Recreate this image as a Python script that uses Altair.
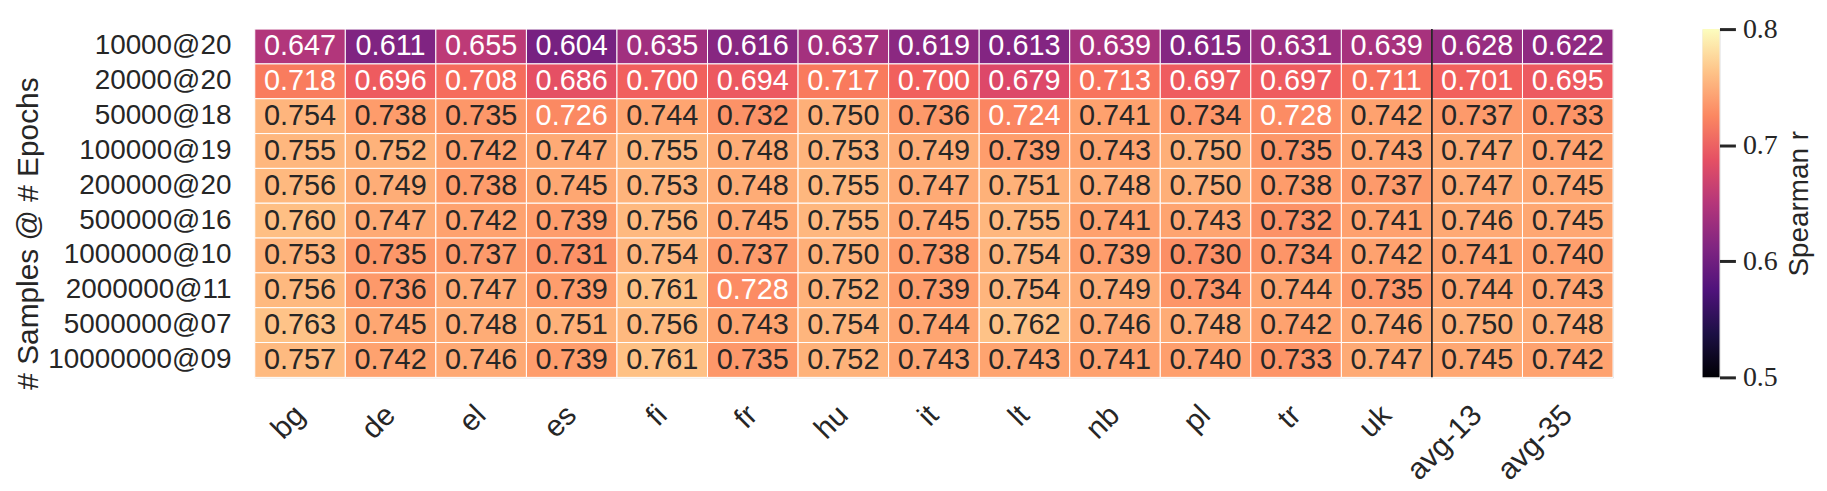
import altair as alt
import pandas as pd

# Column (language) labels
langs = ["bg", "de", "el", "es", "fi", "fr", "hu", "it", "lt", "nb", "pl", "tr", "uk", "avg-13", "avg-35"]

# Row labels (# samples @ # epochs)
runs = ["10000@20", "20000@20", "50000@18", "100000@19", "200000@20",
        "500000@16", "1000000@10", "2000000@11", "5000000@07", "10000000@09"]

# Spearman r per row
r_10000_20 = [0.647, 0.611, 0.655, 0.604, 0.635, 0.616, 0.637, 0.619, 0.613, 0.639, 0.615, 0.631, 0.639, 0.628, 0.622]
r_20000_20 = [0.718, 0.696, 0.708, 0.686, 0.700, 0.694, 0.717, 0.700, 0.679, 0.713, 0.697, 0.697, 0.711, 0.701, 0.695]
r_50000_18 = [0.754, 0.738, 0.735, 0.726, 0.744, 0.732, 0.750, 0.736, 0.724, 0.741, 0.734, 0.728, 0.742, 0.737, 0.733]
r_100000_19 = [0.755, 0.752, 0.742, 0.747, 0.755, 0.748, 0.753, 0.749, 0.739, 0.743, 0.750, 0.735, 0.743, 0.747, 0.742]
r_200000_20 = [0.756, 0.749, 0.738, 0.745, 0.753, 0.748, 0.755, 0.747, 0.751, 0.748, 0.750, 0.738, 0.737, 0.747, 0.745]
r_500000_16 = [0.760, 0.747, 0.742, 0.739, 0.756, 0.745, 0.755, 0.745, 0.755, 0.741, 0.743, 0.732, 0.741, 0.746, 0.745]
r_1000000_10 = [0.753, 0.735, 0.737, 0.731, 0.754, 0.737, 0.750, 0.738, 0.754, 0.739, 0.730, 0.734, 0.742, 0.741, 0.740]
r_2000000_11 = [0.756, 0.736, 0.747, 0.739, 0.761, 0.728, 0.752, 0.739, 0.754, 0.749, 0.734, 0.744, 0.735, 0.744, 0.743]
r_5000000_07 = [0.763, 0.745, 0.748, 0.751, 0.756, 0.743, 0.754, 0.744, 0.762, 0.746, 0.748, 0.742, 0.746, 0.750, 0.748]
r_10000000_09 = [0.757, 0.742, 0.746, 0.739, 0.761, 0.735, 0.752, 0.743, 0.743, 0.741, 0.740, 0.733, 0.747, 0.745, 0.742]

row_values = [r_10000_20, r_20000_20, r_50000_18, r_100000_19, r_200000_20,
              r_500000_16, r_1000000_10, r_2000000_11, r_5000000_07, r_10000000_09]

# Colorbar range and ticks
cbar_range = [0.5, 0.8]
cbar_ticks = [0.5, 0.6, 0.7, 0.8]

# Separator before averages
separator = ["avg-13"]

records = []
for run, vals in zip(runs, row_values):
    for lang, v in zip(langs, vals):
        records.append({"run": run, "lang": lang, "v": v})
df = pd.DataFrame(records)

FONT = "Liberation Sans"
DARK = "#262626"
W, H = 1365, 350

xs = alt.Scale(domain=langs, paddingInner=0, paddingOuter=0)
ys = alt.Scale(domain=runs, paddingInner=0, paddingOuter=0)

base = alt.Chart(df)

rects = base.mark_rect(stroke="white", strokeWidth=1).encode(
    x=alt.X("lang:N", scale=xs, title=None,
            axis=alt.Axis(labelAngle=315, labelAlign="right", labelBaseline="middle",
                          ticks=False, tickSize=0, domain=False, labelPadding=33,
                          labelFontSize=30, labelFont=FONT, labelColor=DARK, labelLimit=300)),
    y=alt.Y("run:N", scale=ys, title="# Samples @ # Epochs",
            axis=alt.Axis(ticks=False, tickSize=0, domain=False, labelPadding=24,
                          labelFontSize=28, labelFont=FONT, labelColor=DARK, labelLimit=300,
                          titleFontSize=30, titleFont=FONT, titleColor=DARK,
                          titleFontWeight="normal", titlePadding=12, titleY=205)),
    color=alt.Color("v:Q", scale=alt.Scale(scheme="magma", domain=cbar_range), legend=None),
)

texts = base.mark_text(fontSize=29, font=FONT).encode(
    x=alt.X("lang:N", scale=xs),
    y=alt.Y("run:N", scale=ys),
    text=alt.Text("v:Q", format=".3f"),
    color=alt.condition(alt.datum.v < 0.729, alt.value("white"), alt.value(DARK)),
)

sep = alt.Chart(pd.DataFrame({"lang": separator})).mark_rule(color="black", strokeWidth=1.5).encode(
    x=alt.X("lang:N", scale=xs, bandPosition=0),
    y=alt.value(0),
    y2=alt.value(H),
)

heat = alt.layer(rects, texts, sep).properties(width=W, height=H)

stops = [
    alt.GradientStop(color="#000004", offset=0.0),
    alt.GradientStop(color="#1c1044", offset=0.125),
    alt.GradientStop(color="#4f127b", offset=0.25),
    alt.GradientStop(color="#812581", offset=0.375),
    alt.GradientStop(color="#b5367a", offset=0.5),
    alt.GradientStop(color="#e55064", offset=0.625),
    alt.GradientStop(color="#fb8761", offset=0.75),
    alt.GradientStop(color="#fec287", offset=0.875),
    alt.GradientStop(color="#fcfdbf", offset=1.0),
]

cbar_df = pd.DataFrame({"lo": [cbar_range[0]], "hi": [cbar_range[1]]})
cbar = alt.Chart(cbar_df).mark_rect(
    fill=alt.Gradient(gradient="linear", stops=stops, x1=0, x2=0, y1=1, y2=0)
).encode(
    x=alt.value(0),
    x2=alt.value(17),
    y=alt.Y("lo:Q", scale=alt.Scale(domain=cbar_range, nice=False, zero=False),
            title="Spearman r",
            axis=alt.Axis(orient="right", values=cbar_ticks, format=".1f", grid=False,
                          domain=False, tickSize=16, tickWidth=3, tickColor=DARK,
                          labelFont="Liberation Serif", labelFontSize=28, labelColor=DARK,
                          labelPadding=7, labelFlush=False, labelBound=False,
                          titleFont=FONT, titleFontSize=28, titleColor=DARK,
                          titleAngle=270, titleBaseline="top",
                          titleFontWeight="normal", titlePadding=8)),
    y2="hi:Q",
).properties(width=17, height=H)

chart = alt.hconcat(heat, cbar, spacing=88).properties(
    padding={"left": 5, "top": 5, "right": 5, "bottom": 5}
).configure_view(stroke=None).configure(font=FONT)

chart.save("out.html", embed_options={"renderer": "svg", "actions": False})
